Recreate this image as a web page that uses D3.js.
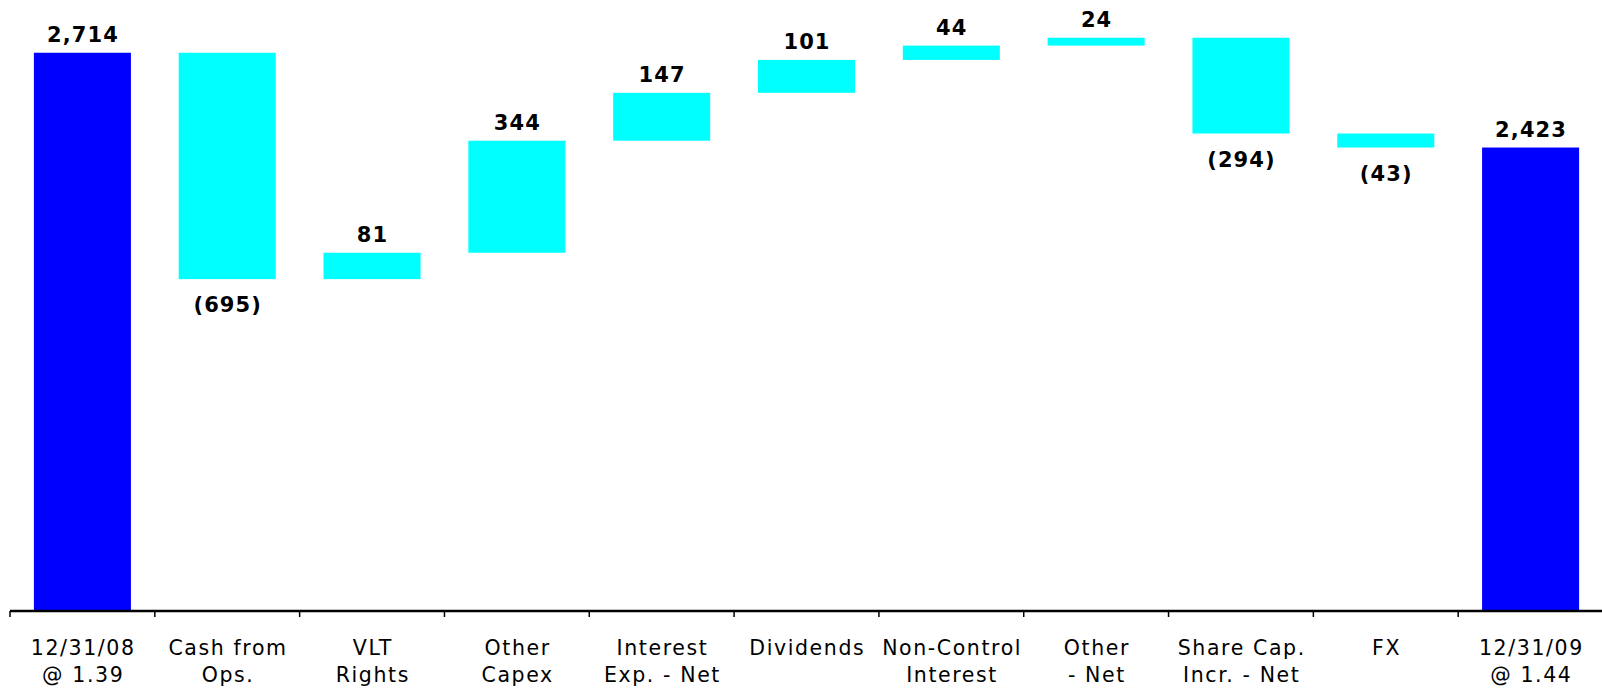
<!DOCTYPE html>
<html>
<head>
<meta charset="utf-8">
<script src="https://cdn.jsdelivr.net/npm/d3@7"></script>
<style>
  html, body { margin: 0; padding: 0; background: #fff; }
  svg { display: block; }
</style>
</head>
<body>
<svg id="chart" width="1602" height="688"></svg>
<script>
// ---- data ----
const categories = ["12/31/08 @ 1.39", "Cash from Ops.", "VLT Rights", "Other Capex",
  "Interest Exp. - Net", "Dividends", "Non-Control Interest", "Other - Net",
  "Share Cap. Incr. - Net", "FX", "12/31/09 @ 1.44"];
const labelLine1 = ["12/31/08", "Cash from", "VLT", "Other", "Interest", "Dividends",
  "Non-Control", "Other", "Share Cap.", "FX", "12/31/09"];
const labelLine2 = ["@ 1.39", "Ops.", "Rights", "Capex", "Exp. - Net", "",
  "Interest", "- Net", "Incr. - Net", "", "@ 1.44"];
const values = [2714, -695, 81, 344, 147, 101, 44, 24, -294, -43, 2423];
const isTotal = [true, false, false, false, false, false, false, false, false, false, true];
const yDomain = [1000, 2800];

// ---- build waterfall segments ----
let running = 0;
const bars = categories.map((c, i) => {
  let start, end;
  if (isTotal[i]) { start = yDomain[0]; end = values[i]; running = values[i]; }
  else { start = running; end = running + values[i]; running = end; }
  return { cat: c, i, value: values[i], total: isTotal[i], lo: Math.min(start, end), hi: Math.max(start, end) };
});

const svg = d3.select("#chart");
const axisY = 611;
const x = d3.scaleBand().domain(categories).range([10, 1603]).paddingInner(0.33).paddingOuter(0.165);
const y = d3.scaleLinear().domain(yDomain).range([axisY, axisY - 1800 * 0.3257]);

const fmt = d3.format(",");

svg.append("g").selectAll("rect").data(bars).join("rect")
  .attr("x", d => x(d.cat))
  .attr("width", x.bandwidth())
  .attr("y", d => y(d.hi))
  .attr("height", d => y(d.lo) - y(d.hi))
  .attr("fill", d => d.total ? "#0000FF" : "#00FFFF");

svg.append("g").selectAll("text").data(bars).join("text")
  .attr("x", d => x(d.cat) + x.bandwidth() / 2 + 0.5)
  .attr("y", d => d.value < 0 ? y(d.lo) + 33 : y(d.hi) - 11)
  .attr("text-anchor", "middle")
  .attr("font-family", "DejaVu Sans, Verdana, sans-serif")
  .attr("font-weight", "bold")
  .attr("font-size", 21)
  .attr("letter-spacing", 1.1)
  .attr("fill", "#000")
  .text(d => d.value < 0 ? "(" + fmt(-d.value) + ")" : fmt(d.value));

// ---- axis ----
const step = x.step();
const tickXs = d3.range(categories.length + 1).map(k => x.range()[0] + k * step);
const ax = svg.append("g");
ax.append("line").attr("x1", 10).attr("x2", 1602).attr("y1", axisY).attr("y2", axisY)
  .attr("stroke", "#000").attr("stroke-width", 2.5);
ax.selectAll("line.tick").data(tickXs).join("line").attr("class", "tick")
  .attr("x1", d => d).attr("x2", d => d).attr("y1", axisY).attr("y2", axisY + 6)
  .attr("stroke", "#000").attr("stroke-width", 1.5);

const lab = svg.append("g").selectAll("text").data(categories).join("text")
  .attr("text-anchor", "middle")
  .attr("font-family", "DejaVu Sans, Verdana, sans-serif")
  .attr("font-size", 20.5)
  .attr("letter-spacing", 1.6)
  .attr("fill", "#000");
lab.each(function(d, i) {
  const t = d3.select(this);
  const cx = x(d) + x.bandwidth() / 2 + 0.8;
  t.append("tspan").attr("x", cx).attr("y", 655).text(labelLine1[i]);
  if (labelLine2[i]) t.append("tspan").attr("x", cx).attr("y", 682).text(labelLine2[i]);
});
</script>
</body>
</html>
